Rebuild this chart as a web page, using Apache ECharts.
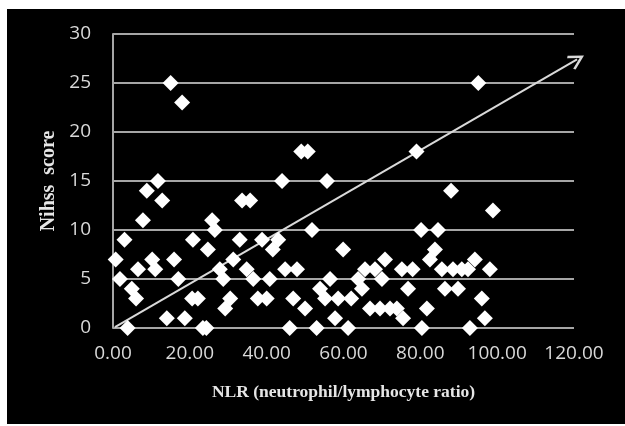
<!DOCTYPE html>
<html>
<head>
<meta charset="utf-8">
<script src="https://cdn.jsdelivr.net/npm/echarts@6/dist/echarts.min.js"></script>
<style>
  html, body { margin: 0; padding: 0; background: #fff; }
  #chart { position: absolute; left: 7px; top: 9px; width: 618px; height: 415px; }
</style>
</head>
<body>
<div id="chart"></div>
<script>
// NLR values (x) and NIHSS scores (y)
const nlr = [
  0.7, 1.8, 3, 3.8, 4.9, 6, 6.5, 7.8, 8.8, 10.2, 11, 11.7, 12.8, 14, 15, 15.9, 17,
  18, 18.7, 20.6, 20.8, 22.1, 23.4, 24.3, 24.7, 25.8, 26.5, 27.8, 28.7, 29.2, 30.5,
  31.3, 33, 33.6, 34.8, 35.7, 36.5, 37.7, 38.8, 40, 40.8, 41.6, 43, 44, 44.8, 46,
  46.9, 47.9, 49, 50, 50.7, 51.8, 53, 53.9, 55.2, 55.7, 56.5, 57.8, 58.6, 59.9,
  61.2, 62, 63.8, 64.8, 65.6, 66.9, 68.2, 69.5, 70, 70.8, 72.1, 73.9, 75.2, 75.5,
  76.8, 78, 79, 80.2, 80.4, 81.7, 82.5, 83.8, 84.6, 85.6, 86.4, 88, 88.5, 89.8,
  90.8, 92.4, 92.9, 94.2, 95.1, 96, 96.8, 98.1, 98.9
];
const nihss = [
  7, 5, 9, 0, 4, 3, 6, 11, 14, 7, 6, 15, 13, 1, 25, 7, 5,
  23, 1, 3, 9, 3, 0, 0, 8, 11, 10, 6, 5, 2, 3,
  7, 9, 13, 6, 13, 5, 3, 9, 3, 5, 8, 9, 15, 6, 0,
  3, 6, 18, 2, 18, 10, 0, 4, 3, 15, 5, 1, 3, 8,
  0, 3, 5, 4, 6, 2, 6, 2, 5, 7, 2, 2, 6, 1,
  4, 6, 18, 10, 0, 2, 7, 8, 10, 6, 4, 14, 6, 4,
  6, 6, 0, 7, 25, 3, 1, 6, 12
];
const xTicks = { min: 0, max: 120, interval: 20 };
const yTicks = { min: 0, max: 30, interval: 5 };
// trend arrow, in data coordinates
const arrowFrom = [0.5, 0.1];
const arrowTo = [120.8, 27.4];

const points = nlr.map((v, i) => [v, nihss[i]]);

const chart = echarts.init(document.getElementById('chart'));
chart.setOption({
  backgroundColor: '#000',
  animation: false,
  grid: { left: 106, right: 51, top: 25, bottom: 96 },
  xAxis: {
    type: 'value',
    min: xTicks.min, max: xTicks.max, interval: xTicks.interval,
    name: 'NLR (neutrophil/lymphocyte ratio)',
    nameLocation: 'middle',
    nameGap: 55,
    nameTextStyle: { color: '#e6e6e6', fontFamily: 'Liberation Serif', fontWeight: 'bold', fontSize: 17.5 },
    axisLine: { show: false },
    axisTick: { show: false },
    splitLine: { show: false },
    axisLabel: {
      color: '#d9d9d9', fontFamily: 'Open Sans', fontSize: 19, margin: 16,
      formatter: v => v.toFixed(2)
    }
  },
  yAxis: {
    type: 'value',
    min: yTicks.min, max: yTicks.max, interval: yTicks.interval,
    name: 'Nihss  score',
    nameLocation: 'middle',
    nameGap: 53,
    nameTextStyle: { color: '#e6e6e6', fontFamily: 'Liberation Serif', fontWeight: 'bold', fontSize: 20 },
    axisLine: { show: true, lineStyle: { color: '#a6a6a6', width: 2 } },
    axisTick: { show: false },
    splitLine: { lineStyle: { color: '#a6a6a6', width: 2 } },
    axisLabel: { color: '#d9d9d9', fontFamily: 'Open Sans', fontSize: 19, margin: 22 }
  },
  series: [{
    type: 'lines',
    coordinateSystem: 'cartesian2d',
    silent: true,
    clip: false,
    symbol: ['none', 'path://M5,0 L10,8.5 L8.8,9.5 L5,3 L1.2,9.5 L0,8.5 Z'],
    symbolSize: 16,
    lineStyle: { color: '#d9d9d9', width: 2, opacity: 1 },
    data: [{ coords: [arrowFrom, arrowTo] }]
  }, {
    type: 'scatter',
    symbol: 'diamond',
    symbolSize: 16,
    clip: false,
    itemStyle: { color: '#fff', opacity: 1 },
    data: points
  }]
});
</script>
</body>
</html>
